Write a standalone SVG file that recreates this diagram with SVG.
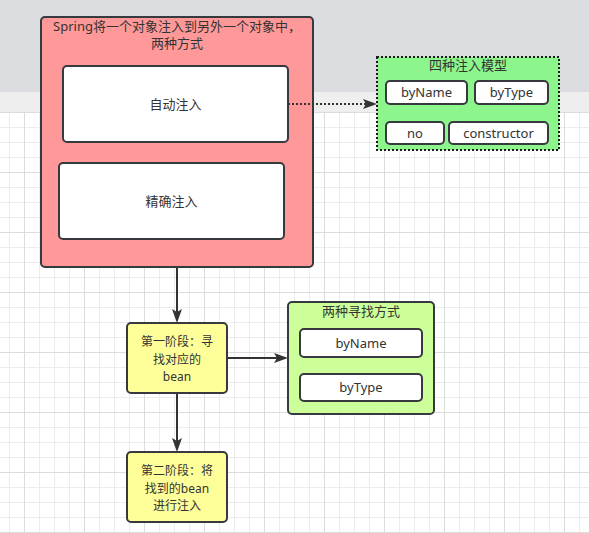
<svg xmlns="http://www.w3.org/2000/svg" width="589" height="533" viewBox="0 0 589 533">
<defs>
<pattern id="grid" x="24" y="52" width="60" height="60" patternUnits="userSpaceOnUse">
<path d="M15.5,0V60M30.5,0V60M45.5,0V60M0,15.5H60M0,30.5H60M0,45.5H60" stroke="#ececec" stroke-width="1" fill="none"/>
<path d="M0.5,0V60M0,0.5H60" stroke="#dcdcdc" stroke-width="1" fill="none"/>
</pattern>
<marker id="arr" markerUnits="userSpaceOnUse" markerWidth="14" markerHeight="10" refX="3" refY="5" orient="auto" viewBox="0 0 14 10">
<path d="M0,0 L14,5 L0,10 L3,5 z" fill="#333333"/>
</marker>
</defs>
<style>
text{font-family:"Noto Sans","Noto Sans CJK SC",sans-serif;font-size:13px;fill:#333333;text-anchor:middle}
text.s{font-size:12px}
.box{stroke:#36393d;stroke-width:2}
.w{fill:#ffffff}
.c{stroke:#333333;stroke-width:2;fill:none}
</style>
<rect x="0" y="0" width="589" height="533" fill="#ffffff"/>
<rect x="0" y="112" width="589" height="421" fill="url(#grid)"/>
<rect x="0" y="0" width="589" height="92" fill="#dcdde0"/>
<rect x="0" y="92" width="589" height="20" fill="#eeeeef"/>

<g id="outer">
<rect class="box" x="41" y="17" width="272" height="250" rx="4" fill="#ff9999"/>
<text x="177" y="31">Spring将一个对象注入到另外一个对象中，</text>
<text x="177" y="48">两种方式</text>
</g>
<g id="auto">
<rect class="box w" x="63" y="66" width="225" height="76" rx="4"/>
<text x="175.5" y="108.5">自动注入</text>
</g>
<g id="precise">
<rect class="box w" x="59" y="163" width="225" height="76" rx="4"/>
<text x="171.5" y="205.5">精确注入</text>
</g>
<g id="models">
<rect x="377" y="57" width="182" height="93" fill="#8cf58c" stroke="#1a1a1a" stroke-width="2" stroke-dasharray="2 2"/>
<text x="468" y="69.5">四种注入模型</text>
</g>
<g id="m-byName">
<rect class="box w" x="386" y="81" width="81" height="23" rx="4"/>
<text x="426.5" y="97">byName</text>
</g>
<g id="m-byType">
<rect class="box w" x="475" y="81" width="73" height="23" rx="4"/>
<text x="511.5" y="97">byType</text>
</g>
<g id="m-no">
<rect class="box w" x="386" y="122" width="58" height="22" rx="4"/>
<text x="415" y="137.5">no</text>
</g>
<g id="m-constructor">
<rect class="box w" x="449" y="122" width="99" height="22" rx="4"/>
<text x="498.5" y="137.5">constructor</text>
</g>
<g id="stage1">
<rect class="box" x="127" y="323" width="100" height="70" rx="4" fill="#ffff99"/>
<text class="s" x="177" y="346">第一阶段：寻</text>
<text class="s" x="177" y="363.5">找对应的</text>
<text class="s" x="177" y="381">bean</text>
</g>
<g id="find">
<rect class="box" x="288" y="302" width="146" height="112" rx="4" fill="#ccff99"/>
<text x="361" y="315.5">两种寻找方式</text>
</g>
<g id="f-byName">
<rect class="box w" x="300" y="329" width="122" height="28" rx="4"/>
<text x="361" y="347.5">byName</text>
</g>
<g id="f-byType">
<rect class="box w" x="300" y="374" width="122" height="27" rx="4"/>
<text x="361" y="392">byType</text>
</g>
<g id="stage2">
<rect class="box" x="127" y="452" width="100" height="70" rx="4" fill="#ffff99"/>
<text class="s" x="177" y="475">第二阶段：将</text>
<text class="s" x="177" y="492.5">找到的bean</text>
<text class="s" x="177" y="510">进行注入</text>
</g>
<g id="connectors">
<path class="c" d="M288,104 H366" stroke-dasharray="2 2" marker-end="url(#arr)"/>
<path class="c" d="M177,268 V312" marker-end="url(#arr)"/>
<path class="c" d="M227,358 H277" marker-end="url(#arr)"/>
<path class="c" d="M177,394 V441" marker-end="url(#arr)"/>
</g>
</svg>
